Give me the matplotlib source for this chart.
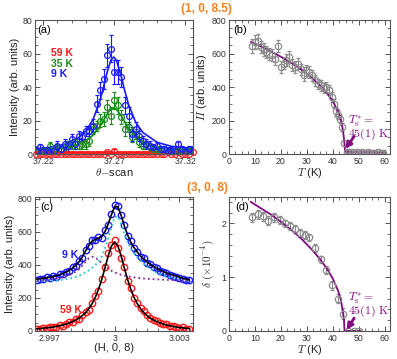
import matplotlib
matplotlib.use("Agg")
import matplotlib.pyplot as plt
from matplotlib.ticker import MultipleLocator

plt.rcParams["font.family"] = ["Liberation Sans", "DejaVu Sans"]
plt.rcParams["mathtext.fontset"] = "cm"

# ---- panel (a): theta scans at (1, 0, 8.5)
a_x = [37.215, 37.2175, 37.220, 37.2225, 37.225, 37.2275, 37.230, 37.2325, 37.235, 37.2375,
       37.240, 37.2425, 37.245, 37.2475, 37.250, 37.2525, 37.255, 37.2575, 37.260, 37.2625,
       37.265, 37.2675, 37.270, 37.2725, 37.275, 37.2775, 37.280, 37.2825, 37.285, 37.2875,
       37.290, 37.2925, 37.295, 37.2975, 37.300, 37.3025, 37.305, 37.3075, 37.310, 37.3125,
       37.315, 37.3175, 37.320, 37.3225, 37.325]
a_9k = [2, 4, 1, 2, 1, 2, 5, 3, 6, 5, 9, 6, 11, 10, 14, 14, 17, 30, 38, 45,
        59, 63, 49, 49, 46, 29, 23, 12, 15, 11, 8, 6, 5, 4, 5, 3, 3, 2, 2, 2,
        6, 3, 2, 3, 2]
a_9k_err = [2, 2, 2, 2, 2, 2, 3, 2, 3, 3, 3, 3, 3, 3, 3, 3, 4, 5, 5, 6,
            7, 8, 7, 7, 6, 5, 5, 4, 4, 3, 3, 3, 3, 2, 2, 2, 2, 2, 2, 3,
            2, 2, 2, 2, 2]
a_35k = [1, 0, 2, 1, 5, 3, 4, 3, 4, 6, 5, 7, 5, 6, 6, 8, 15, 17, 20, 21,
         28, 23, 32, 29, 22, 15, 16, 10, 12, 7, 5, 6, 4, 3, 3, 2, 3, 1, 2, 1,
         2, 1, 1, 2, 1]
a_35k_err = [2, 2, 2, 2, 2, 2, 2, 2, 2, 2, 2, 2, 2, 3, 3, 3, 3, 3, 4, 4,
             4, 5, 5, 5, 4, 4, 3, 3, 3, 3, 2, 2, 2, 2, 2, 2, 2, 2, 2, 2,
             2, 2, 2, 2, 2]
a_59k = [0, 0, 0, 0, 0, 0, 0, 0, 0, 0, 0, 0, 0, 0, 0, 0, 0, 0, 0, 0,
         1, 0, 2, 0, 0, 0, 0, 0, 0, 0, 0, 0, 0, 0, 0, 0, 0, 1, 0, 0,
         1, 0, 0, 0, 1]
a_59k_err = [1, 1, 1, 1, 1, 1, 1, 1, 1, 1, 1, 1, 1, 1, 1, 1, 1, 1, 1, 1,
             1, 1, 1, 1, 1, 1, 1, 1, 1, 1, 1, 1, 1, 1, 1, 1, 1, 1, 1, 1,
             1, 1, 1, 1, 1]
a_fit_x = [37.214, 37.225, 37.235, 37.245, 37.250, 37.255, 37.260, 37.2625, 37.265, 37.2675,
           37.2695, 37.2715, 37.275, 37.2775, 37.280, 37.285, 37.290, 37.300, 37.310, 37.325]
a_fit_9k = [3.0, 4.0, 5.8, 9.9, 13.8, 20.6, 32.3, 40.5, 49.1, 56.0,
            58.0, 56.0, 45.7, 37.1, 29.5, 18.9, 12.9, 7.0, 4.6, 3.0]
a_fit_35k = [2.5, 3.0, 3.8, 6.0, 8.0, 11.2, 16.8, 20.3, 24.0, 26.7,
             27.5, 26.7, 22.6, 18.9, 15.4, 10.4, 7.3, 4.3, 3.0, 2.3]
a_fit_59k = [0.4, 0.4]
a_fit_59k_x = [37.214, 37.325]

# ---- panel (b): integrated intensity vs T
b_T = [8.9, 10.0, 11.1, 12.2, 13.3, 14.4, 15.5, 16.6, 17.7, 18.8,
       19.9, 21.0, 22.1, 23.2, 24.3, 25.4, 26.5, 27.6, 28.7, 29.8,
       30.9, 32.0, 33.1, 34.2, 35.3, 36.4, 37.5, 38.6, 39.7, 40.5,
       41.3, 42.1, 42.9, 43.6, 44.4, 45.4, 46.4, 47.4, 48.4, 49.4,
       50.4, 51.4, 52.4, 53.4, 54.4, 55.4, 56.4, 57.4, 58.4, 59.4]
b_I = [645, 670, 675, 640, 625, 610, 600, 590, 565, 645,
       520, 540, 560, 580, 530, 520, 540, 505, 470, 500,
       490, 470, 440, 420, 410, 395, 400, 385, 340, 300,
       255, 235, 210, 160, 65, 15, 10, 12, 8, 10,
       9, 11, 8, 10, 7, 9, 8, 10, 7, 9]
b_err = [40, 40, 40, 38, 38, 38, 36, 36, 36, 35,
         35, 35, 35, 35, 35, 34, 34, 34, 33, 33,
         33, 32, 32, 31, 31, 30, 30, 30, 30, 28,
         28, 27, 26, 25, 20, 7, 7, 7, 7, 7,
         7, 7, 7, 7, 7, 7, 7, 7, 7, 7]
b_fit_T = [8.5, 12, 16, 20, 24, 28, 32, 35, 38, 40, 42, 43, 43.9, 44.3, 44.6, 44.65, 59]
b_fit_I = [670, 645, 614, 581, 544, 503, 454, 411, 359, 314, 256, 216, 140, 90, 40, 14, 8]

# ---- panel (c): H scans at (3, 0, 8)
c_x = [2.99640, 2.99655, 2.99670, 2.99685, 2.99700, 2.99715, 2.99730, 2.99745, 2.99760, 2.99775,
       2.99790, 2.99805, 2.99820, 2.99835, 2.99850, 2.99865, 2.99880, 2.99895, 2.99910, 2.99925,
       2.99940, 2.99955, 2.99970, 2.99985, 3.00000, 3.00015, 3.00030, 3.00045, 3.00060, 3.00075,
       3.00090, 3.00105, 3.00120, 3.00135, 3.00150, 3.00165, 3.00180, 3.00195, 3.00210, 3.00225,
       3.00240, 3.00255, 3.00270, 3.00285, 3.00300, 3.00315, 3.00330, 3.00345]
c_9k = [312, 318, 315, 325, 322, 333, 330, 345, 345, 360,
        365, 385, 395, 425, 445, 490, 515, 550, 550, 570,
        565, 610, 640, 710, 765, 760, 700, 640, 575, 545,
        500, 480, 450, 440, 410, 405, 385, 380, 365, 355,
        350, 340, 335, 330, 320, 318, 312, 310]
c_9k_fit = [315, 317, 320, 323, 326, 330, 335, 341, 348, 357,
            368, 381, 398, 420, 449, 485, 518, 543, 555, 562,
            572, 602, 649, 705, 755, 752, 701, 636, 582, 538,
            505, 478, 455, 436, 419, 404, 391, 379, 369, 360,
            352, 345, 339, 333, 326, 320, 315, 310]
c_9k_main = [300, 301, 302, 303, 304, 305, 307, 309, 311, 314,
             318, 322, 328, 335, 344, 355, 368, 383, 400, 422,
             452, 500, 562, 630, 690, 695, 650, 590, 540, 500,
             470, 446, 425, 407, 391, 377, 365, 354, 345, 337,
             330, 324, 319, 315, 311, 308, 305, 303]
c_9k_side = [305, 306, 308, 310, 312, 315, 318, 322, 327, 333,
             340, 349, 360, 375, 395, 420, 440, 450, 445, 430,
             410, 392, 377, 365, 355, 347, 341, 336, 332, 328,
             325, 322, 320, 318, 316, 315, 314, 313, 312, 311,
             310, 309, 308, 307, 306, 305, 304, 303]
c_59k = [10, 14, 18, 16, 22, 26, 25, 35, 33, 45,
         52, 55, 70, 75, 95, 115, 130, 170, 210, 245,
         315, 390, 470, 520, 550, 505, 445, 390, 300, 260,
         200, 170, 140, 120, 95, 80, 65, 60, 50, 45,
         40, 30, 30, 25, 20, 22, 15, 12]
c_59k_fit = [13, 15, 17, 19, 21, 24, 28, 32, 36, 42,
             49, 57, 66, 78, 93, 111, 135, 165, 203, 252,
             312, 382, 455, 515, 540, 515, 455, 382, 312, 252,
             203, 165, 135, 111, 93, 78, 66, 57, 49, 42,
             36, 32, 28, 24, 21, 19, 17, 15]

# ---- panel (d): orthorhombic splitting vs T
d_T = [9.0, 11.0, 13.0, 15.2, 17.4, 19.6, 21.6, 23.6, 25.5, 27.4,
       29.2, 31.0, 33.3, 35.5, 37.4, 39.6, 41.8, 43.8, 46.0, 48.0, 50.0]
d_delta = [2.11, 2.17, 2.13, 2.05, 2.11, 2.06, 2.00, 1.95, 1.90, 1.82,
           1.78, 1.74, 1.54, 1.33, 1.13, 0.85, 0.60, 0.32, 0.0, 0.0, 0.0]
d_err = [0.08, 0.08, 0.08, 0.08, 0.08, 0.07, 0.07, 0.07, 0.07, 0.07,
         0.07, 0.07, 0.07, 0.07, 0.07, 0.08, 0.08, 0.10, 0.02, 0.02, 0.02]
d_fit_T = [8.4, 12, 16, 20, 24, 28, 32, 35, 38, 40, 42, 43, 43.9, 44.3, 44.5, 50.5]
d_fit_delta = [2.40, 2.29, 2.17, 2.03, 1.88, 1.71, 1.51, 1.34, 1.14, 0.97, 0.75, 0.60, 0.35, 0.20, 0.0, 0.0]

RED = "#ff1a1a"
GREEN = "#1a8c1a"
BLUE = "#1a1aff"
GRAY = "#8c8c8c"
PURPLE = "#800a80"
ORANGE = "#f5821f"
TXT = "#333333"

TS_LABEL = r"$T_{\rm s}^{*} =$" + "\n" + r"$45(1)\ \rm K$"

fig = plt.figure(figsize=(3.97, 3.59), dpi=100)
ax_a = fig.add_axes([0.0882, 0.571, 0.398, 0.373])
ax_b = fig.add_axes([0.5768, 0.571, 0.4055, 0.373])
ax_c = fig.add_axes([0.0882, 0.078, 0.398, 0.3746])
ax_d = fig.add_axes([0.5768, 0.078, 0.4055, 0.3746])


def style(ax):
    ax.tick_params(which="both", direction="in", top=True, right=True,
                   color="#555555", labelcolor=TXT, labelsize=6.3, pad=2)
    ax.tick_params(which="major", length=3.5, width=0.7)
    ax.tick_params(which="minor", length=2, width=0.6)
    for s in ax.spines.values():
        s.set_color("#555555")
        s.set_linewidth(0.8)


for ax in (ax_a, ax_b, ax_c, ax_d):
    style(ax)

mk = dict(marker="o", ms=4.2, mfc="none", mew=0.9, ls="none", capsize=1.3, elinewidth=0.8)

# (a)
red_a = ax_a.errorbar(a_x, a_59k, yerr=a_59k_err, color=RED, **mk)
for art in red_a.lines[0:1]:
    art.set_clip_on(False)
ax_a.errorbar(a_x, a_35k, yerr=a_35k_err, color=GREEN, **mk)
ax_a.errorbar(a_x, a_9k, yerr=a_9k_err, color=BLUE, **mk)
ax_a.plot(a_fit_59k_x, a_fit_59k, color=RED, lw=1.1)
ax_a.plot(a_fit_x, a_fit_35k, color=GREEN, lw=1.2)
ax_a.plot(a_fit_x, a_fit_9k, color=BLUE, lw=1.2)
ax_a.set_xlim(37.2142, 37.3253)
ax_a.set_ylim(0, 80)
ax_a.set_xticks([37.22, 37.27, 37.32])
ax_a.set_xticklabels(["37.22", "37.27", "37.32"])
ax_a.xaxis.set_minor_locator(MultipleLocator(0.01))
ax_a.yaxis.set_major_locator(MultipleLocator(20))
ax_a.yaxis.set_minor_locator(MultipleLocator(5))
ax_a.set_xlabel(r"$\theta$$-$scan", fontsize=8, color="#222222", labelpad=0.5)
ax_a.set_ylabel("Intensity (arb. units)", fontsize=8, color="#222222", labelpad=2)
ax_a.text(37.2252, 60.3, "59 K", color=RED, fontsize=7.5, fontweight="bold", va="center")
ax_a.text(37.2252, 54.0, "35 K", color=GREEN, fontsize=7.5, fontweight="bold", va="center")
ax_a.text(37.2252, 47.8, "9 K", color=BLUE, fontsize=7.5, fontweight="bold", va="center")
ax_a.text(0.012, 0.925, "(a)", transform=ax_a.transAxes, fontsize=8, va="center")

# (b)
ax_b.errorbar(b_T, b_I, yerr=b_err, color=GRAY, **dict(mk, ms=4.6))
ax_b.plot(b_fit_T, b_fit_I, color=PURPLE, lw=1.3)
ax_b.set_xlim(0, 62)
ax_b.set_ylim(0, 800)
ax_b.xaxis.set_major_locator(MultipleLocator(10))
ax_b.xaxis.set_minor_locator(MultipleLocator(2.5))
ax_b.yaxis.set_major_locator(MultipleLocator(200))
ax_b.yaxis.set_minor_locator(MultipleLocator(50))
ax_b.set_xlabel(r"$T$ (K)", fontsize=8, color="#222222", labelpad=0.5)
ax_b.set_ylabel(r"$II$ (arb. units)", fontsize=8, color="#222222", labelpad=2)
ax_b.text(0.025, 0.925, "(b)", transform=ax_b.transAxes, fontsize=8, va="center")
ax_b.text(46.0, 158, TS_LABEL, color=PURPLE, fontsize=8.5, va="center", ha="left",
          linespacing=0.85)
ax_b.annotate("", xy=(44.8, 30), xytext=(48.2, 105),
              arrowprops=dict(arrowstyle="-|>", color=PURPLE, lw=2.0, mutation_scale=9,
                              shrinkA=0, shrinkB=0))

# (c)
ax_c.plot(c_x, c_9k, ls="none", marker="o", ms=4.6, mfc="none", mew=1.0, color=BLUE)
ax_c.plot(c_x, c_59k, ls="none", marker="o", ms=4.6, mfc="none", mew=1.0, color=RED)
ax_c.plot(c_x, c_9k_main, color="#22c8d0", ls=":", lw=1.3)
ax_c.plot(c_x, c_9k_side, color="#8a2a9a", ls=":", lw=1.3)
ax_c.plot(c_x, c_9k_fit, color="black", lw=1.2)
ax_c.plot(c_x, c_59k_fit, color="black", lw=1.2)
ax_c.set_xlim(2.99631, 3.00363)
ax_c.set_ylim(0, 815)
ax_c.set_xticks([2.997, 3.0, 3.003])
ax_c.set_xticklabels(["2.997", "3", "3.003"])
ax_c.xaxis.set_minor_locator(MultipleLocator(0.0005))
ax_c.yaxis.set_major_locator(MultipleLocator(200))
ax_c.yaxis.set_minor_locator(MultipleLocator(50))
ax_c.set_xlabel("(H, 0, 8)", fontsize=8, color="#222222", labelpad=0.5)
ax_c.set_ylabel("Intensity (arb. units)", fontsize=8, color="#222222", labelpad=2)
ax_c.text(2.99756, 460, "9 K", color=BLUE, fontsize=7.5, fontweight="bold", va="center")
ax_c.text(2.99746, 126, "59 K", color=RED, fontsize=7.5, fontweight="bold", va="center")
ax_c.text(0.03, 0.925, "(c)", transform=ax_c.transAxes, fontsize=8, va="center")

# (d)
ax_d.errorbar(d_T, d_delta, yerr=d_err, color=GRAY, **dict(mk, ms=4.6))
ax_d.plot(d_fit_T, d_fit_delta, color=PURPLE, lw=1.3)
ax_d.set_xlim(0, 62)
ax_d.set_ylim(0, 2.5)
ax_d.xaxis.set_major_locator(MultipleLocator(10))
ax_d.xaxis.set_minor_locator(MultipleLocator(2.5))
ax_d.yaxis.set_major_locator(MultipleLocator(1))
ax_d.yaxis.set_minor_locator(MultipleLocator(0.2))
ax_d.set_xlabel(r"$T$ (K)", fontsize=8, color="#222222", labelpad=0.5)
ax_d.set_ylabel(r"$\delta\ (\times 10^{-4})$", fontsize=8, color="#222222", labelpad=4)
ax_d.text(0.04, 0.925, "(d)", transform=ax_d.transAxes, fontsize=8, va="center")
ax_d.text(46.0, 0.49, TS_LABEL, color=PURPLE, fontsize=8.5, va="center", ha="left",
          linespacing=0.85)
ax_d.annotate("", xy=(45.3, 0.02), xytext=(48.2, 0.24),
              arrowprops=dict(arrowstyle="-|>", color=PURPLE, lw=2.0, mutation_scale=9,
                              shrinkA=0, shrinkB=0))

fig.text(206 / 397, 1 - 9 / 359, "(1, 0, 8.5)", ha="center", va="center",
         color=ORANGE, fontsize=8.5, fontweight="bold")
fig.text(207 / 397, 1 - 188 / 359, "(3, 0, 8)", ha="center", va="center",
         color=ORANGE, fontsize=8.5, fontweight="bold")

fig.savefig("out.png", dpi=100)
